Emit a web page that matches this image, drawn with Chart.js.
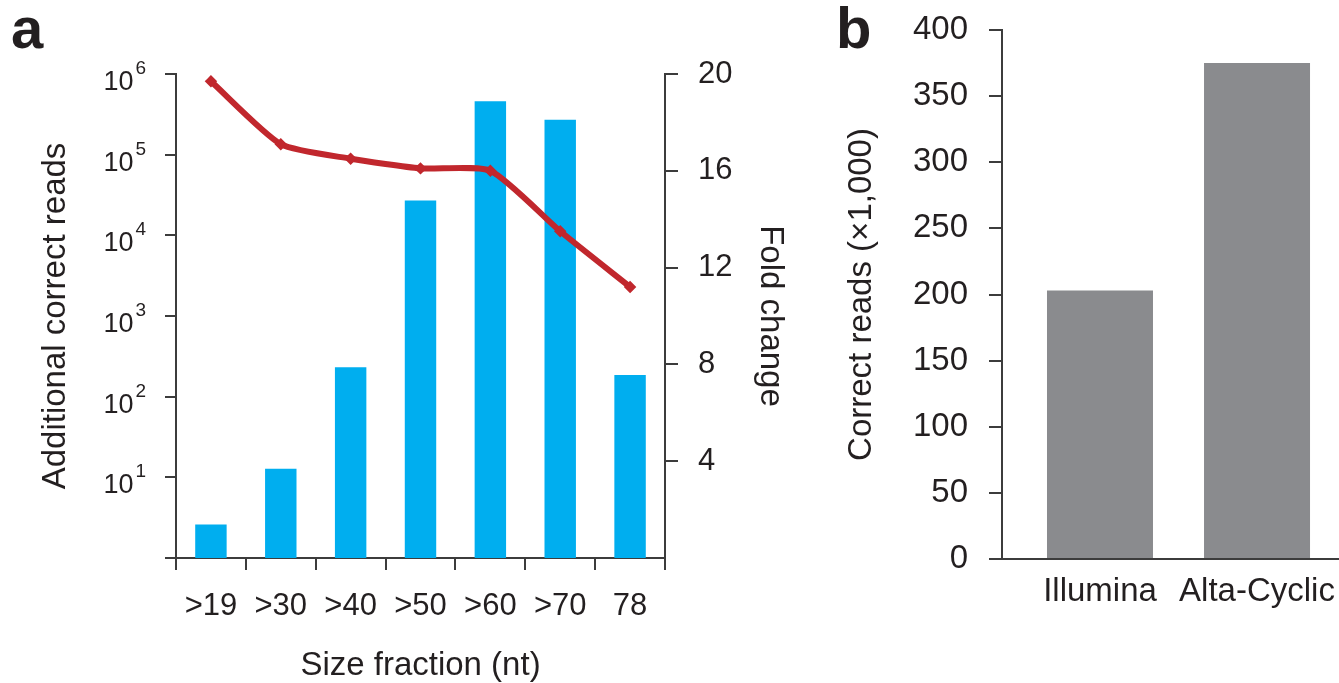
<!DOCTYPE html>
<html>
<head>
<meta charset="utf-8">
<script src="https://cdn.jsdelivr.net/npm/chart.js@4.4.1/dist/chart.umd.min.js"></script>
<style>
  html, body { margin: 0; padding: 0; background: #fff; overflow: hidden; }
  #page { position: relative; width: 1339px; height: 683px; }
  .panel { position: absolute; top: 0; }
  #wrapA { left: 0; }
  #wrapB { left: 820px; }
  .tag { position: absolute; top: -1px; font: bold 58px 'Liberation Sans', Arial, sans-serif; line-height: 58px; color: #231f20; }
</style>
</head>
<body>
<div id="page">
  <div class="panel" id="wrapA"><canvas id="chartA" width="820" height="683"></canvas></div>
  <div class="panel" id="wrapB"><canvas id="chartB" width="519" height="683"></canvas></div>
  <div class="tag" style="left:11px">a</div>
  <div class="tag" style="left:836px">b</div>
</div>
<script>
// panel a data
const sizeFractions = ['>19', '>30', '>40', '>50', '>60', '>70', '78'];
const additionalReads = [2.6, 12.8, 232, 27000, 460000, 270000, 185];
const foldChange = [19.7, 17.1, 16.5, 16.1, 16.0, 13.5, 11.2];
const countTickValues = [1, 10, 100, 1000, 10000, 100000, 1000000];
const countTickLabels = [null, ['10', '1'], ['10', '2'], ['10', '3'], ['10', '4'], ['10', '5'], ['10', '6']];
const foldTicks = [4, 8, 12, 16, 20];

// panel b data
const platforms = ['Illumina', 'Alta-Cyclic'];
const correctReads = [203, 375];
const correctTicks = [0, 50, 100, 150, 200, 250, 300, 350, 400];

const textColor = '#231f20';
const axisColor = '#3c3c3c';
const cyan = '#00aeef';
const red = '#c1272d';
const grey = '#8a8b8e';
const fontFamily = "'Liberation Sans', Arial, Helvetica, sans-serif";

Chart.defaults.font.family = fontFamily;
Chart.defaults.color = textColor;

// 10 with a raised exponent, placed on the log axis ticks
const powerLabels = {
  id: 'powerLabels',
  afterDraw(chart) {
    const s = chart.scales.y;
    const ctx = chart.ctx;
    ctx.save();
    ctx.fillStyle = textColor;
    ctx.textAlign = 'right';
    ctx.textBaseline = 'alphabetic';
    countTickValues.forEach((v, i) => {
      const lab = countTickLabels[i];
      if (!lab) return;
      const y = s.getPixelForValue(v);
      const right = s.right - 30;
      ctx.font = '19px ' + fontFamily;
      ctx.fillText(lab[1], right, y);
      const w = ctx.measureText(lab[1]).width;
      ctx.font = '27px ' + fontFamily;
      ctx.fillText(lab[0], right - w - 2, y + 16);
    });
    ctx.restore();
  }
};

new Chart(document.getElementById('chartA'), {
  data: {
    labels: sizeFractions,
    datasets: [
      {
        type: 'line',
        label: 'Fold change',
        data: foldChange,
        yAxisID: 'y1',
        order: 0,
        borderColor: red,
        backgroundColor: red,
        borderWidth: 6,
        borderCapStyle: 'round',
        tension: 0.2,
        pointRadius: 2,
        pointStyle: 'rectRot'
      },
      {
        type: 'bar',
        label: 'Additional correct reads',
        data: additionalReads,
        yAxisID: 'y',
        order: 1,
        backgroundColor: cyan,
        barPercentage: 0.45,
        categoryPercentage: 1
      }
    ]
  },
  options: {
    responsive: false,
    animation: false,
    layout: { padding: { top: 74, left: 0, right: 0, bottom: 0 } },
    plugins: { legend: { display: false }, tooltip: { enabled: false } },
    scales: {
      x: {
        type: 'category',
        offset: true,
        grid: { offset: true, drawOnChartArea: false, tickLength: 12, color: axisColor, lineWidth: 2 },
        border: { color: axisColor, width: 2 },
        ticks: { font: { size: 31 }, color: textColor, padding: 18, maxRotation: 0, autoSkip: false },
        title: { display: true, text: 'Size fraction (nt)', font: { size: 33, lineHeight: 1 }, color: textColor, padding: { top: 0, bottom: 1 } },
        afterFit: s => { s.height = 125; }
      },
      y: {
        type: 'logarithmic',
        position: 'left',
        min: 1,
        max: 1000000,
        afterBuildTicks: s => { s.ticks = countTickValues.map(v => ({ value: v })); },
        grid: { drawOnChartArea: false, tickLength: 11, color: axisColor, lineWidth: 2 },
        border: { color: axisColor, width: 2 },
        ticks: { display: false },
        title: { display: true, text: 'Additional correct reads', font: { size: 33 }, color: textColor, padding: { top: 36, bottom: 0 } },
        afterFit: s => { s.width = 176; }
      },
      y1: {
        type: 'linear',
        position: 'right',
        min: 0,
        max: 20,
        afterBuildTicks: s => { s.ticks = foldTicks.map(v => ({ value: v })); },
        grid: { drawOnChartArea: false, tickLength: 13, color: axisColor, lineWidth: 2 },
        border: { color: axisColor, width: 2 },
        ticks: { font: { size: 31 }, color: textColor, padding: 20, autoSkip: false },
        title: { display: true, text: 'Fold change', font: { size: 33 }, color: textColor, padding: { top: 30, bottom: 0 } },
        afterFit: s => { s.width = 155; }
      }
    }
  },
  plugins: [powerLabels]
});

new Chart(document.getElementById('chartB'), {
  type: 'bar',
  data: {
    datasets: [{
      label: 'Correct reads',
      data: platforms.map((p, i) => ({ x: i + 1, y: correctReads[i] })),
      backgroundColor: grey,
      barPercentage: 1,
      categoryPercentage: 0.675
    }]
  },
  options: {
    responsive: false,
    animation: false,
    layout: { padding: { top: 30, left: 0, right: 0, bottom: 0 } },
    plugins: { legend: { display: false }, tooltip: { enabled: false } },
    scales: {
      x: {
        type: 'linear',
        offset: false,
        min: 0.376,
        max: 2.522,
        afterBuildTicks: s => { s.ticks = platforms.map((p, i) => ({ value: i + 1 })); },
        grid: { display: true, offset: false, drawOnChartArea: false, drawTicks: false },
        border: { color: axisColor, width: 2 },
        ticks: { callback: v => platforms[v - 1] || '', font: { size: 33 }, color: textColor, padding: 13, maxRotation: 0, autoSkip: false },
        afterFit: s => { s.height = 124; s.paddingLeft = 0; s.paddingRight = 0; }
      },
      y: {
        type: 'linear',
        min: 0,
        max: 400,
        afterBuildTicks: s => { s.ticks = correctTicks.map(v => ({ value: v })); },
        grid: { drawOnChartArea: false, tickLength: 13, color: axisColor, lineWidth: 2 },
        border: { color: axisColor, width: 2 },
        ticks: { font: { size: 33 }, color: textColor, padding: 21, autoSkip: false },
        title: { display: true, text: 'Correct reads (×1,000)', font: { size: 33 }, color: textColor, padding: { top: 22, bottom: 0 } },
        afterFit: s => { s.width = 182; s.paddingTop = 0; s.paddingBottom = 0; }
      }
    }
  }
});
</script>
</body>
</html>
